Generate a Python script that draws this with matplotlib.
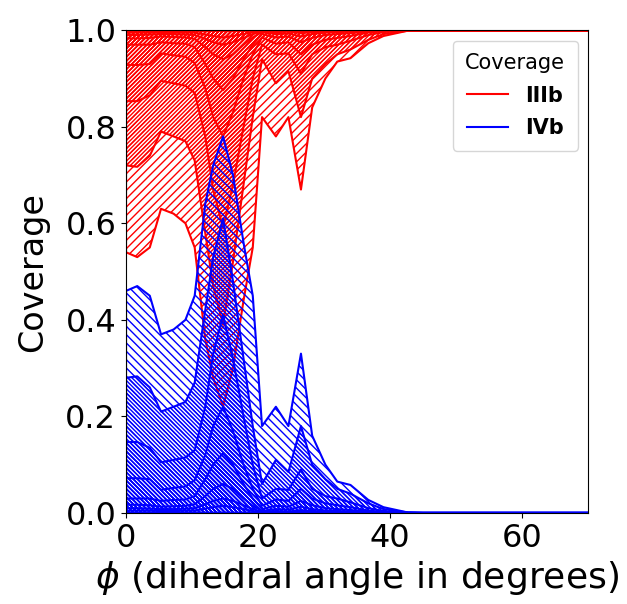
import matplotlib
matplotlib.use('Agg')
import matplotlib.pyplot as plt
from matplotlib.lines import Line2D

# dihedral angle grid (degrees)
phi = [0, 1.7, 3.6, 5.3, 7.2, 9.0, 10.4, 12.0, 13.2, 14.7, 16.2, 17.8, 19.2,
       20.6, 22.7, 24.6, 26.5, 28.2, 30.2, 32.0, 34.0, 36.7, 39.0, 42.7, 45.0, 70.0]

# IVb coverage curves (filled from 0 up)
ivb_1 = [0.46, 0.47, 0.45, 0.37, 0.38, 0.40, 0.45, 0.64, 0.72, 0.78, 0.70, 0.56, 0.45,
         0.18, 0.22, 0.18, 0.33, 0.16, 0.10, 0.065, 0.058, 0.027, 0.012, 0.001, 0, 0]
ivb_2 = [0.28, 0.283, 0.26, 0.21, 0.22, 0.23, 0.27, 0.42, 0.53, 0.61, 0.48, 0.32, 0.18,
         0.06, 0.11, 0.085, 0.18, 0.10, 0.07, 0.05, 0.04, 0.02, 0.008, 0.001, 0, 0]
ivb_3 = [0.147, 0.147, 0.135, 0.105, 0.11, 0.115, 0.13, 0.22, 0.33, 0.41, 0.32, 0.20, 0.10,
         0.03, 0.05, 0.048, 0.09, 0.05, 0.035, 0.03, 0.022, 0.01, 0.004, 0, 0, 0]
ivb_4 = [0.072, 0.072, 0.07, 0.048, 0.052, 0.055, 0.068, 0.12, 0.18, 0.22, 0.17, 0.10, 0.05,
         0.015, 0.028, 0.025, 0.05, 0.03, 0.02, 0.016, 0.012, 0.005, 0.002, 0, 0, 0]
ivb_5 = [0.03, 0.03, 0.03, 0.025, 0.027, 0.028, 0.035, 0.07, 0.10, 0.124, 0.10, 0.06, 0.03,
         0.008, 0.015, 0.013, 0.025, 0.016, 0.01, 0.008, 0.006, 0.003, 0.001, 0, 0, 0]
ivb_6 = [0.017, 0.017, 0.016, 0.013, 0.014, 0.015, 0.018, 0.035, 0.05, 0.06, 0.05, 0.03, 0.015,
         0.004, 0.008, 0.007, 0.013, 0.008, 0.005, 0.004, 0.003, 0.001, 0, 0, 0, 0]
ivb_7 = [0.01, 0.01, 0.009, 0.008, 0.008, 0.009, 0.01, 0.018, 0.025, 0.03, 0.025, 0.016, 0.008,
         0.002, 0.004, 0.003, 0.006, 0.004, 0.003, 0.002, 0.001, 0, 0, 0, 0, 0]
ivb_8 = [0.005, 0.005, 0.005, 0.004, 0.004, 0.005, 0.005, 0.009, 0.012, 0.015, 0.012, 0.008, 0.004,
         0.001, 0.002, 0.002, 0.003, 0.002, 0.001, 0.001, 0, 0, 0, 0, 0, 0]

# IIIb coverage curves (filled from curve up to 1)
iiib_1 = [0.54, 0.53, 0.55, 0.63, 0.62, 0.60, 0.55, 0.36, 0.28, 0.22, 0.30, 0.44, 0.55,
          0.82, 0.78, 0.82, 0.67, 0.84, 0.90, 0.935, 0.942, 0.973, 0.988, 0.999, 1, 1]
iiib_2 = [0.72, 0.717, 0.74, 0.79, 0.78, 0.77, 0.73, 0.58, 0.47, 0.39, 0.52, 0.68, 0.82,
          0.94, 0.89, 0.915, 0.82, 0.90, 0.93, 0.95, 0.96, 0.98, 0.992, 0.999, 1, 1]
iiib_3 = [0.853, 0.853, 0.865, 0.895, 0.89, 0.885, 0.87, 0.78, 0.67, 0.59, 0.68, 0.80, 0.90,
          0.97, 0.95, 0.952, 0.91, 0.95, 0.965, 0.97, 0.978, 0.99, 0.996, 1, 1, 1]
iiib_4 = [0.928, 0.928, 0.93, 0.952, 0.948, 0.945, 0.932, 0.88, 0.82, 0.78, 0.83, 0.90, 0.95,
          0.985, 0.972, 0.975, 0.95, 0.97, 0.98, 0.984, 0.988, 0.995, 0.998, 1, 1, 1]
iiib_5 = [0.97, 0.97, 0.97, 0.975, 0.973, 0.972, 0.965, 0.93, 0.90, 0.876, 0.90, 0.94, 0.97,
          0.992, 0.985, 0.987, 0.975, 0.984, 0.99, 0.992, 0.994, 0.997, 0.999, 1, 1, 1]
iiib_6 = [0.983, 0.983, 0.984, 0.987, 0.986, 0.985, 0.982, 0.965, 0.95, 0.94, 0.95, 0.97, 0.985,
          0.996, 0.992, 0.993, 0.987, 0.992, 0.995, 0.996, 0.997, 0.999, 1, 1, 1, 1]
iiib_7 = [0.99, 0.99, 0.991, 0.992, 0.992, 0.991, 0.99, 0.982, 0.975, 0.97, 0.975, 0.984, 0.992,
          0.998, 0.996, 0.997, 0.994, 0.996, 0.997, 0.998, 0.999, 1, 1, 1, 1, 1]
iiib_8 = [0.995, 0.995, 0.995, 0.996, 0.996, 0.995, 0.995, 0.991, 0.988, 0.985, 0.988, 0.992, 0.996,
          0.999, 0.998, 0.998, 0.997, 0.998, 0.999, 0.999, 1, 1, 1, 1, 1, 1]

iiib_curves = [iiib_1, iiib_2, iiib_3, iiib_4, iiib_5, iiib_6, iiib_7, iiib_8]
ivb_curves = [ivb_1, ivb_2, ivb_3, ivb_4, ivb_5, ivb_6, ivb_7, ivb_8]
hatch_reps = [4, 8, 8, 8, 8, 8, 8, 8]

fig = plt.figure(figsize=(6.27, 6.04), dpi=100)
ax = fig.add_axes([0.201, 0.1507, 0.737, 0.7993])

for nn, cc in zip(hatch_reps, iiib_curves):
    ax.fill_between(phi, cc, 1, facecolor='none', edgecolor='red',
                    hatch='/' * nn, linewidth=1.5)
for nn, cc in zip(hatch_reps, ivb_curves):
    ax.fill_between(phi, 0, cc, facecolor='none', edgecolor='blue',
                    hatch='\\' * nn, linewidth=1.5)

ax.set_xlim(0, 70)
ax.set_ylim(0, 1)
ax.set_xticks([0, 20, 40, 60])
ax.set_yticks([0.0, 0.2, 0.4, 0.6, 0.8, 1.0])
ax.tick_params(labelsize=23)
ax.set_xlabel(r'$\phi$ (dihedral angle in degrees)', fontsize=26)
ax.set_ylabel('Coverage', fontsize=24, labelpad=12)

handles = [Line2D([], [], color='red', lw=1.5), Line2D([], [], color='blue', lw=1.5)]
leg = ax.legend(handles, ['IIIb', 'IVb'], title='Coverage', loc='upper right',
                title_fontsize=15, prop={'weight': 'bold', 'size': 15},
                handlelength=2.0, borderpad=0.6, labelspacing=0.6)

fig.savefig('out.png', dpi=100)
